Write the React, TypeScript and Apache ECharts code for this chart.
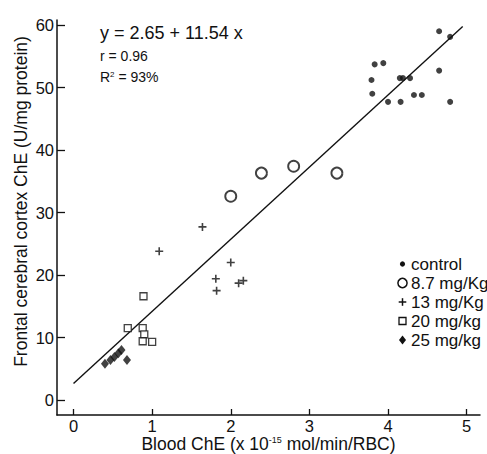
import React, { useEffect, useRef } from 'react';
import * as echarts from 'echarts';

const xTicks = [0, 1, 2, 3, 4, 5];
const yTicks = [0, 10, 20, 30, 40, 50, 60];

const groupNames = ['control', '8.7 mg/Kg', '13 mg/Kg', '20 mg/kg', '25 mg/kg'];

const control = [
  [4.65, 59.0], [4.79, 58.1], [3.83, 53.7], [3.94, 53.9], [3.79, 51.2],
  [4.15, 51.5], [4.19, 51.5], [4.28, 51.5], [4.65, 52.7], [3.80, 49.0],
  [4.00, 47.7], [4.16, 47.7], [4.33, 48.8], [4.43, 48.8], [4.79, 47.7],
];
const dose87 = [[2.0, 32.6], [2.39, 36.3], [2.80, 37.4], [3.35, 36.3]];
const dose13 = [
  [1.09, 23.8], [1.64, 27.7], [2.0, 22.0], [1.81, 19.4],
  [1.82, 17.5], [2.10, 18.7], [2.16, 19.1],
];
const dose20 = [[0.89, 16.6], [0.69, 11.5], [0.88, 11.5], [0.90, 10.5], [0.88, 9.4], [1.0, 9.3]];
const dose25 = [[0.40, 5.8], [0.47, 6.4], [0.52, 6.9], [0.57, 7.5], [0.61, 8.0], [0.68, 6.4]];

const intercept = 2.65;
const slope = 11.54;
const rValue = 0.96;
const r2Percent = 93;
const fitRange = [0, 4.95];

const FONT = '"Liberation Sans", Arial, Helvetica, sans-serif';
const INK = '#111';
const CROSS = 'path://M4,0H6V4H10V6H6V10H4V6H0V4H4Z';

export default function App() {
  const ref = useRef<HTMLDivElement>(null);

  useEffect(() => {
    if (!ref.current) return;
    const chart = echarts.init(ref.current, null, { renderer: 'svg' });

    const fitLine = fitRange.map((x) => [x, intercept + slope * x]);

    const legendY0 = 264;
    const legendGap = 19;
    const ix = 402.5;
    const legendGraphics: any[] = [];
    groupNames.forEach((name, i) => {
      const cy = legendY0 + i * legendGap;
      let icon: any;
      if (i === 0) icon = { type: 'circle', shape: { cx: ix, cy, r: 2.6 }, style: { fill: INK } };
      else if (i === 1) icon = { type: 'circle', shape: { cx: ix, cy, r: 4.6 }, style: { fill: '#fff', stroke: INK, lineWidth: 1.5 } };
      else if (i === 2) icon = {
        type: 'group', children: [
          { type: 'line', shape: { x1: ix - 3.8, y1: cy, x2: ix + 3.8, y2: cy }, style: { stroke: INK, lineWidth: 1.5 } },
          { type: 'line', shape: { x1: ix, y1: cy - 3.8, x2: ix, y2: cy + 3.8 }, style: { stroke: INK, lineWidth: 1.5 } },
        ],
      };
      else if (i === 3) icon = { type: 'rect', shape: { x: ix - 3.5, y: cy - 3.5, width: 7, height: 7 }, style: { fill: '#fff', stroke: INK, lineWidth: 1.3 } };
      else icon = { type: 'polygon', shape: { points: [[ix, cy - 4.5], [ix + 3.5, cy], [ix, cy + 4.5], [ix - 3.5, cy]] }, style: { fill: INK } };
      legendGraphics.push(icon);
      legendGraphics.push({
        type: 'text', x: 411, y: cy,
        style: { text: name, font: `17px ${FONT}`, fill: INK, textAlign: 'left', textVerticalAlign: 'middle', align: 'left', verticalAlign: 'middle' },
      });
    });

    chart.setOption({
      animation: false,
      backgroundColor: '#fff',
      grid: { left: 57, right: 7, top: 20, bottom: 39, containLabel: false, outerBoundsMode: 'none' },
      xAxis: {
        type: 'value', min: -0.21, max: 5.17,
        axisLine: { show: true, onZero: false, lineStyle: { color: INK, width: 1.5 } },
        axisTick: { show: true, inside: true, length: 6, customValues: xTicks, lineStyle: { color: INK, width: 1.3 } },
        axisLabel: { customValues: xTicks, margin: 2, color: INK, fontSize: 16.5, fontFamily: FONT },
        splitLine: { show: false },
        name: 'Blood ChE (x 10{sup|-15} mol/min/RBC)',
        nameLocation: 'middle', nameGap: 20, nameMoveOverlap: false,
        nameTextStyle: {
          color: INK, fontSize: 17.5, fontFamily: FONT, verticalAlign: 'top', lineHeight: 17,
          rich: { sup: { fontSize: 9, fontFamily: FONT, color: INK, verticalAlign: 'top', lineHeight: 17 } },
        },
      },
      yAxis: {
        type: 'value', min: -2.4, max: 60.8,
        axisLine: { show: true, onZero: false, lineStyle: { color: INK, width: 1.5 } },
        axisTick: { show: true, inside: true, length: 8, customValues: yTicks, lineStyle: { color: INK, width: 1.3 } },
        axisLabel: { customValues: yTicks, margin: 3, color: INK, fontSize: 16.5, fontFamily: FONT },
        splitLine: { show: false },
      },
      graphic: [
        {
          type: 'text', x: 21, y: 201.5, rotation: Math.PI / 2,
          style: { text: 'Frontal cerebral cortex ChE (U/mg protein)', font: `17.5px ${FONT}`, fill: INK, textAlign: 'center', textVerticalAlign: 'middle', align: 'center', verticalAlign: 'middle' },
        },
        {
          type: 'text', x: 100, y: 33,
          style: { text: `y = ${intercept} + ${slope} x`, font: `18px ${FONT}`, fill: INK, textAlign: 'left', textVerticalAlign: 'middle', align: 'left', verticalAlign: 'middle' },
        },
        {
          type: 'text', x: 100, y: 56,
          style: { text: `r = ${rValue}`, font: `14px ${FONT}`, fill: INK, textAlign: 'left', textVerticalAlign: 'middle', align: 'left', verticalAlign: 'middle' },
        },
        {
          type: 'text', x: 100, y: 77,
          style: {
            text: `R{sup|2} = ${r2Percent}%`, font: `14px ${FONT}`, fill: INK,
            textAlign: 'left', textVerticalAlign: 'middle', align: 'left', verticalAlign: 'middle',
            rich: { sup: { fontSize: 8, fontFamily: FONT, fill: INK, verticalAlign: 'top' } },
          },
        },
        ...legendGraphics,
      ],
      series: [
        {
          type: 'line', name: 'fit', data: fitLine, showSymbol: false, symbol: 'none',
          lineStyle: { color: INK, width: 1.4 }, z: 1, silent: true,
        },
        {
          type: 'scatter', name: groupNames[0], data: control, symbol: 'circle', symbolSize: 6,
          itemStyle: { color: INK }, z: 3,
        },
        {
          type: 'scatter', name: groupNames[1], data: dose87, symbol: 'circle', symbolSize: 11,
          itemStyle: { color: '#fff', borderColor: INK, borderWidth: 1.9 }, z: 3,
        },
        {
          type: 'scatter', name: groupNames[2], data: dose13, symbol: CROSS, symbolSize: 8,
          itemStyle: { color: INK }, z: 3,
        },
        {
          type: 'scatter', name: groupNames[3], data: dose20, symbol: 'rect', symbolSize: 7,
          itemStyle: { color: '#fff', borderColor: INK, borderWidth: 1.3 }, z: 3,
        },
        {
          type: 'scatter', name: groupNames[4], data: dose25, symbol: 'diamond', symbolSize: [8, 10],
          itemStyle: { color: INK }, z: 3,
        },
      ],
    });

    return () => chart.dispose();
  }, []);

  return (
    <div
      ref={ref}
      style={{ position: 'absolute', left: 0, top: 0, width: 487, height: 454, background: '#fff' }}
    />
  );
}
